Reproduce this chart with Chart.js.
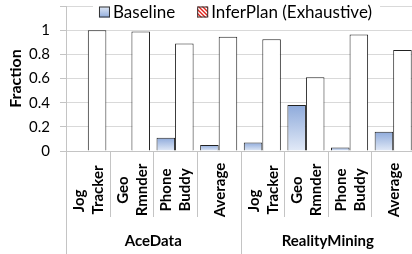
<!DOCTYPE html>
<html>
<head>
<meta charset="utf-8">
<script src="https://cdn.jsdelivr.net/npm/chart.js@4.4.4/dist/chart.umd.min.js"></script>
<style>
  html, body { margin: 0; padding: 0; background: #fff; overflow: hidden; }
  #wrap { width: 416px; height: 254px; }
</style>
</head>
<body>
<div id="wrap"><canvas id="chart" width="416" height="254"></canvas></div>
<script>
// ─── Data ────────────────────────────────────────────────────────────────────

// wrapped category labels (one entry per line); "Jog" carries trailing spaces like the original
const CATEGORY_LINES = [
    ['Jog      ', 'Tracker'], ['Geo', 'Rmnder'], ['Phone', 'Buddy'], ['Average'],
    ['Jog      ', 'Tracker'], ['Geo', 'Rmnder'], ['Phone', 'Buddy'], ['Average']
];
const GROUP_NAMES = ['AceData', 'RealityMining'];
const GROUP_SIZES = [4, 4];

const BASELINE  = [0, 0.005, 0.11, 0.05, 0.07, 0.38, 0.03, 0.16];
const INFERPLAN = [1.0, 0.99, 0.89, 0.945, 0.925, 0.61, 0.965, 0.835];

const SERIES_NAMES = ['Baseline', 'InferPlan (Exhaustive)'];
const Y_MAX = 1.2;
const Y_STEP = 0.2;

// ─── Styling helpers ─────────────────────────────────────────────────────────

const FONT = "Lato, 'Open Sans', sans-serif";
const LINE_GRAY = '#c4c4c4';

function baselineFill(ctx) {
    const chart = ctx.chart;
    if (!chart.chartArea || ctx.raw == null) return '#b4c7e7';
    const y = chart.scales.y;
    const top = y.getPixelForValue(ctx.raw);
    const bot = y.getPixelForValue(0);
    const g = chart.ctx.createLinearGradient(0, top, 0, Math.max(bot, top + 1));
    g.addColorStop(0, '#8eaadb');
    g.addColorStop(1, '#e2eaf7');
    return g;
}

function hatchPattern(c) {
    const p = document.createElement('canvas');
    p.width = 4; p.height = 4;
    const x = p.getContext('2d');
    x.fillStyle = '#fff';
    x.fillRect(0, 0, 4, 4);
    x.strokeStyle = '#e2231a';
    x.lineWidth = 1.4;
    x.beginPath();
    x.moveTo(0, 0); x.lineTo(4, 4);
    x.moveTo(-2, 2); x.lineTo(2, 6);
    x.moveTo(2, -2); x.lineTo(6, 2);
    x.stroke();
    return c.createPattern(p, 'repeat');
}

// ─── Custom legend (white box over the top gridline) ────────────────────────

const legendPlugin = {
    id: 'topLegend',
    afterDraw(chart) {
        const { ctx, chartArea } = chart;
        ctx.save();
        ctx.font = `17px ${FONT}`;
        const box = 11, gap = 3, itemGap = 22;
        const widths = SERIES_NAMES.map(n => box + gap + ctx.measureText(n).width);
        const total = widths.reduce((a, b) => a + b, 0) + itemGap * (widths.length - 1);
        let x = (chartArea.left + chartArea.right) / 2 - total / 2 - 5;
        const cy = 12;
        ctx.fillStyle = '#fff';
        ctx.fillRect(x - 6, 0, total + 14, 22);
        SERIES_NAMES.forEach((name, i) => {
            const bx = x, by = cy - box / 2;
            if (i === 0) {
                const g = ctx.createLinearGradient(0, by, 0, by + box);
                g.addColorStop(0, '#e2eaf7');
                g.addColorStop(1, '#8eaadb');
                ctx.fillStyle = g;
            } else {
                ctx.fillStyle = hatchPattern(ctx);
            }
            ctx.fillRect(bx, by, box, box);
            ctx.strokeStyle = '#333';
            ctx.lineWidth = 1;
            ctx.strokeRect(bx + 0.5, by + 0.5, box - 1, box - 1);
            ctx.fillStyle = '#000';
            ctx.textBaseline = 'middle';
            ctx.textAlign = 'left';
            ctx.fillText(name, bx + box + gap, cy + 1);
            x += widths[i] + itemGap;
        });
        ctx.restore();
    }
};

// ─── Category + group labels under the axis ─────────────────────────────────

const xLabelsPlugin = {
    id: 'groupedXLabels',
    afterDraw(chart) {
        const { ctx, chartArea, scales: { x } } = chart;
        const base = chartArea.bottom;
        const n = CATEGORY_LINES.length;
        const step = x.getPixelForValue(1) - x.getPixelForValue(0);
        const edge = i => x.getPixelForValue(i) - step / 2;
        ctx.save();

        // separators
        ctx.strokeStyle = LINE_GRAY;
        ctx.lineWidth = 1;
        const groupEdges = [0];
        GROUP_SIZES.reduce((acc, s) => { groupEdges.push(acc + s); return acc + s; }, 0);
        for (let i = 0; i <= n; i++) {
            const px = Math.round(edge(i)) + 0.5;
            const isGroup = groupEdges.includes(i);
            ctx.beginPath();
            ctx.moveTo(px, base);
            ctx.lineTo(px, isGroup ? 254 : base + 66);
            ctx.stroke();
        }

        // rotated category labels
        ctx.fillStyle = '#000';
        ctx.font = `bold 15px ${FONT}`;
        ctx.textAlign = 'center';
        ctx.textBaseline = 'middle';
        const lineH = 19;
        CATEGORY_LINES.forEach((lines, i) => {
            const cx = x.getPixelForValue(i) + 1;
            const cy = base + 39;
            lines.forEach((t, j) => {
                const off = (j - (lines.length - 1) / 2) * lineH;
                ctx.save();
                ctx.translate(cx + off, cy);
                ctx.rotate(-Math.PI / 2);
                ctx.fillText(t, 0, 0);
                ctx.restore();
            });
        });

        // group labels
        ctx.font = `bold 15px ${FONT}`;
        GROUP_NAMES.forEach((g, k) => {
            const l = edge(groupEdges[k]);
            const r = edge(groupEdges[k + 1]);
            ctx.fillText(g, (l + r) / 2, base + 90);
        });
        ctx.restore();
    }
};

// ─── Chart ───────────────────────────────────────────────────────────────────

Chart.defaults.font.family = FONT;
Chart.defaults.color = '#000';

new Chart(document.getElementById('chart'), {
    type: 'bar',
    data: {
        labels: CATEGORY_LINES.map(l => l.join(' ').trim()),
        datasets: [
            {
                label: SERIES_NAMES[0],
                data: BASELINE,
                backgroundColor: baselineFill,
                borderColor: '#222',
                borderWidth: 1,
                borderSkipped: 'bottom',
                barPercentage: 1,
                categoryPercentage: 0.85
            },
            {
                label: SERIES_NAMES[1],
                data: INFERPLAN,
                backgroundColor: '#fff',
                borderColor: '#222',
                borderWidth: 1,
                borderSkipped: 'bottom',
                barPercentage: 1,
                categoryPercentage: 0.85
            }
        ]
    },
    options: {
        responsive: false,
        animation: false,
        layout: { padding: { top: 6, right: 1, left: 0, bottom: 0 } },
        plugins: {
            legend: { display: false },
            tooltip: { enabled: false }
        },
        scales: {
            x: {
                grid: { display: false },
                border: { display: true, color: LINE_GRAY },
                ticks: { display: false },
                afterFit: s => { s.height = 103; }
            },
            y: {
                min: 0,
                max: Y_MAX,
                grid: { color: '#d9d9d9', tickLength: 6, tickColor: LINE_GRAY },
                border: { display: true, color: LINE_GRAY },
                ticks: {
                    stepSize: Y_STEP,
                    padding: 10,
                    font: { size: 15 },
                    callback: v => (v >= Y_MAX - 1e-9 ? '' : String(Math.round(v * 10) / 10))
                },
                title: {
                    display: true,
                    text: 'Fraction',
                    font: { size: 16, weight: 'bold' },
                    padding: { top: 6, bottom: 0 }
                },
                afterFit: s => { s.width = 66; s.paddingTop = 0; s.paddingBottom = 0; }
            }
        }
    },
    plugins: [legendPlugin, xLabelsPlugin]
});
</script>
</body>
</html>
